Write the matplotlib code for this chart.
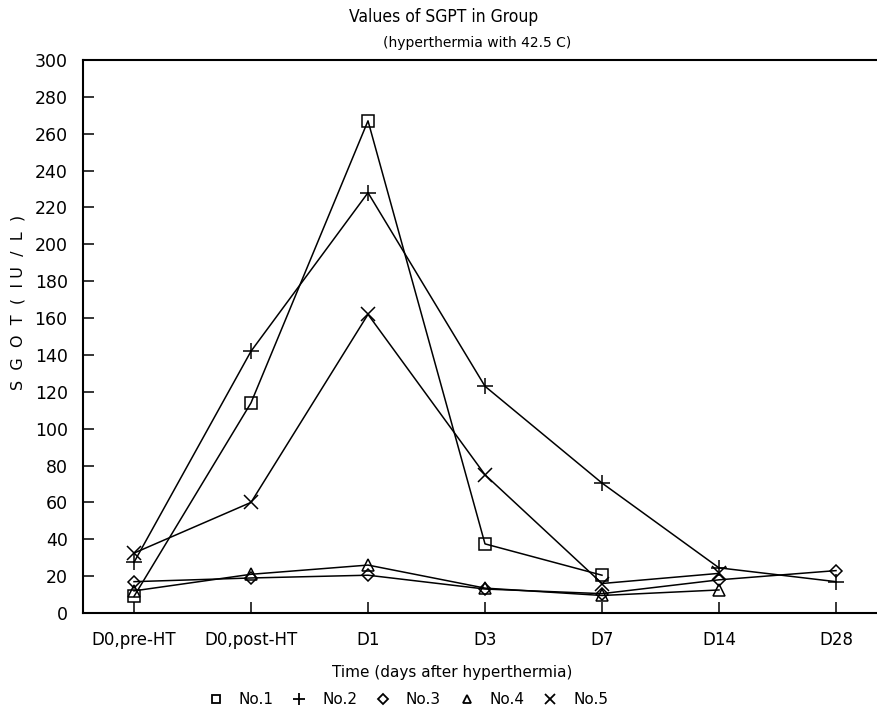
import matplotlib
matplotlib.use("Agg")
import matplotlib.pyplot as plt
from matplotlib.lines import Line2D

categories = ["D0,pre-HT", "D0,post-HT", "D1", "D3", "D7", "D14", "D28"]
no1 = [9, 114, 267, 37.5, 20.5]
no2 = [27.5, 142, 228, 123, 70.5, 24.5, 17]
no3 = [17, 19, 20.5, 13, 10.5, 18, 23]
no4 = [12, 21, 26, 13.5, 9.5, 12.5]
no5 = [32.5, 60, 162, 75, 16, 21.5]
series_names = ["No.1", "No.2", "No.3", "No.4", "No.5"]
yticks = list(range(0, 301, 20))

fig = plt.figure(figsize=(8.78, 7.12), dpi=100)
ax = fig.add_axes([83/878, 1-613/712, 1-83/878, (613-60)/712])

styles = [
    (no1, "s", 9, 6),
    (no2, "+", 11, 8),
    (no3, "D", 6, 5),
    (no4, "^", 8, 6),
    (no5, "x", 10, 7),
]
handles = []
for (vals, mk, ms, lms), name in zip(styles, series_names):
    x = list(range(len(vals)))
    ax.plot(x, vals, color="black", lw=1.1, marker=mk, ms=ms,
            mfc="none", mec="black", mew=1.1)
    handles.append(Line2D([], [], ls="none", marker=mk, ms=lms,
                          mfc="none", mec="black", mew=1.3, color="black", label=name))

ax.set_xlim(-(134-83)/117, (878-134)/117)
ax.set_ylim(0, 300)
ax.set_xticks(range(len(categories)))
ax.set_xticklabels(categories, fontsize=12)
ax.set_yticks(yticks)
ax.set_yticklabels([str(t) for t in yticks], fontsize=12.5)
ax.tick_params(axis="both", direction="in", length=8, width=1.1, color="black")
ax.tick_params(axis="x", pad=13)
ax.tick_params(axis="y", pad=11)
for s in ["left", "bottom", "top"]:
    ax.spines[s].set_linewidth(1.5)
ax.spines["right"].set_visible(False)

fig.text(444/878, 1-17/712, "Values of SGPT in Group", ha="center", va="center",
         fontsize=12.5, fontstretch="condensed")
fig.text(477/878, 1-43/712, "(hyperthermia with 42.5 C)", ha="center", va="center", fontsize=10)
fig.text(18/878, 1-302/712, "S  G  O  T  (  I U  /  L  )", rotation=90, ha="center", va="center", fontsize=11.5)
fig.text(452/878, 1-673/712, "Time (days after hyperthermia)", ha="center", va="center", fontsize=11)

fig.legend(handles=handles, loc="center", bbox_to_anchor=(408/878, 1-700/712),
           ncol=5, frameon=False, fontsize=11, handlelength=1.0,
           handletextpad=1.0, columnspacing=1.18, borderpad=0, borderaxespad=0)

fig.savefig("out.png", dpi=100)
